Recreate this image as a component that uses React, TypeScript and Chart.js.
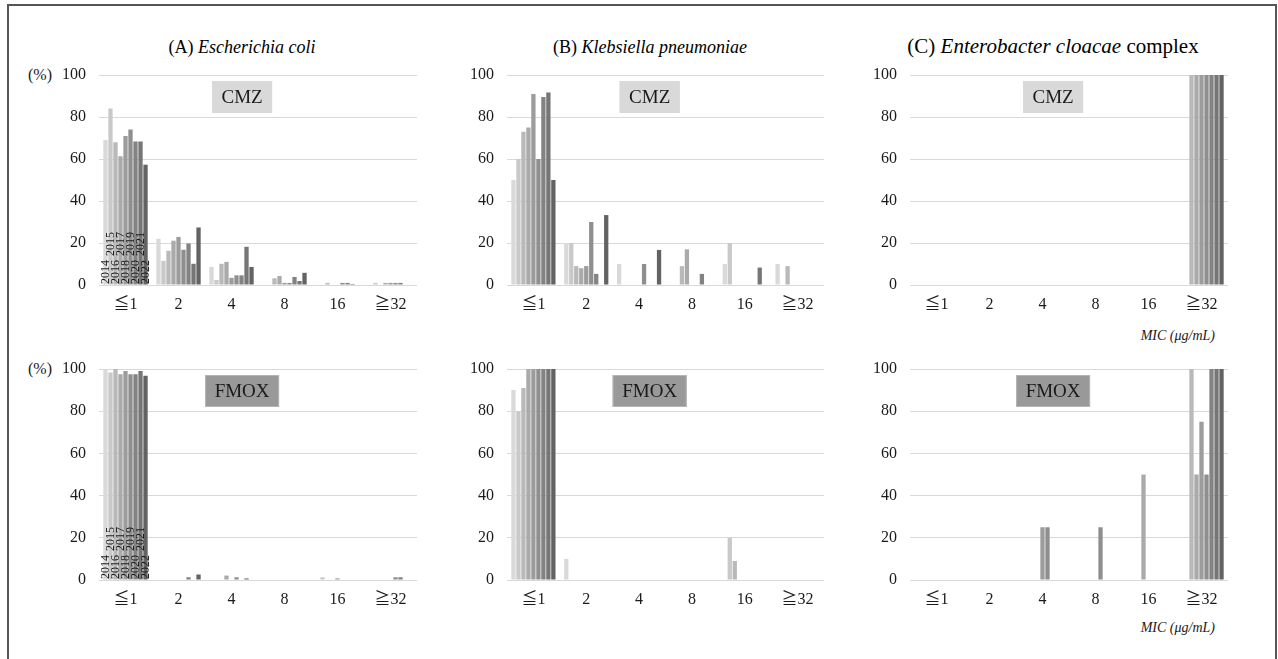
import React, { useEffect, useRef } from 'react';
import { Chart, registerables } from 'chart.js';

Chart.register(...registerables);

const FONT = "'Liberation Serif', 'Noto Sans CJK JP', serif";
Chart.defaults.font.family = FONT;

const categories = ['≦1', '2', '4', '8', '16', '≧32'];
const years = ['2014', '2015', '2016', '2017', '2018', '2019', '2020', '2021', '2022'];
const yearColors = ['#d9d9d9', '#c9c9c9', '#b9b9b9', '#aaaaaa', '#9c9c9c', '#8f8f8f', '#838383', '#767676', '#636363'];

// rows = years (2014..2022), columns = categories (≦1, 2, 4, 8, 16, ≧32), values in %
const ecoliCMZ = [
  [69, 22, 8.6, 0, 0, 0],
  [84, 11.5, 2.4, 0, 0, 1],
  [68, 16.3, 10.1, 3.2, 1, 0],
  [61.3, 21.1, 11, 4.3, 0, 1],
  [71, 22.9, 3.4, 1, 0, 1],
  [74, 16.8, 4.6, 1, 1, 1],
  [68.3, 19.8, 4.6, 3.8, 1, 1],
  [68.3, 10.1, 18.2, 1.9, 0.5, 0],
  [57.3, 27.4, 8.6, 5.8, 0, 0],
];
const ecoliFMOX = [
  [100, 0, 0, 0, 0, 0],
  [98.4, 0, 0, 0, 1.3, 0],
  [100, 0, 0, 0, 0, 0],
  [97.5, 0, 2.1, 0, 0, 0],
  [99, 0, 0, 0, 0.8, 0],
  [97.5, 0, 1.3, 0, 0, 1.3],
  [97.5, 1.3, 0, 0, 0, 1.3],
  [99, 0, 0.8, 0, 0, 0],
  [96.8, 2.6, 0, 0, 0, 0],
];
const klebCMZ = [
  [50, 20, 10, 0, 10, 10],
  [60, 20, 0, 0, 20, 0],
  [73, 9, 0, 9, 0, 9],
  [75, 8, 0, 17, 0, 0],
  [91, 9, 0, 0, 0, 0],
  [60, 30, 10, 0, 0, 0],
  [89.5, 5.3, 0, 5.3, 0, 0],
  [91.7, 0, 0, 0, 8.3, 0],
  [50, 33.3, 16.7, 0, 0, 0],
];
const klebFMOX = [
  [90, 10, 0, 0, 0, 0],
  [80, 0, 0, 0, 20, 0],
  [91, 0, 0, 0, 9, 0],
  [100, 0, 0, 0, 0, 0],
  [100, 0, 0, 0, 0, 0],
  [100, 0, 0, 0, 0, 0],
  [100, 0, 0, 0, 0, 0],
  [100, 0, 0, 0, 0, 0],
  [100, 0, 0, 0, 0, 0],
];
const enteroCMZ = [
  [null, null, null, null, null, null],
  [null, null, null, null, null, null],
  [0, 0, 0, 0, 0, 100],
  [0, 0, 0, 0, 0, 100],
  [0, 0, 0, 0, 0, 100],
  [0, 0, 0, 0, 0, 100],
  [0, 0, 0, 0, 0, 100],
  [0, 0, 0, 0, 0, 100],
  [0, 0, 0, 0, 0, 100],
];
const enteroFMOX = [
  [null, null, null, null, null, null],
  [null, null, null, null, null, null],
  [0, 0, 0, 0, 0, 100],
  [0, 0, 0, 0, 50, 50],
  [0, 0, 25, 0, 0, 75],
  [0, 0, 25, 25, 0, 50],
  [0, 0, 0, 0, 0, 100],
  [0, 0, 0, 0, 0, 100],
  [0, 0, 0, 0, 0, 100],
];

type PanelProps = {
  left: number;
  top: number;
  width: number;
  height: number;
  rows: (number | null)[][];
  tag: string;
  tagFill: string;
  tagStroke: string;
  tagW: number;
  showYears: boolean;
};

const Y_AXIS_W = 60;
const PAD_T = 26;
const PAD_R = 12;
const X_AXIS_H = 40;

function Panel(p: PanelProps) {
  const ref = useRef<HTMLCanvasElement>(null);
  useEffect(() => {
    const tagPlugin = {
      id: 'tag',
      afterDatasetsDraw(chart: any) {
        const { ctx, chartArea } = chart;
        const cx = chartArea.left + 0.45 * (chartArea.right - chartArea.left);
        const y0 = chartArea.top + 6;
        const h = 32;
        ctx.save();
        ctx.fillStyle = p.tagFill;
        ctx.fillRect(cx - p.tagW / 2, y0, p.tagW, h);
        ctx.strokeStyle = p.tagStroke;
        ctx.lineWidth = 1;
        ctx.strokeRect(cx - p.tagW / 2 + 0.5, y0 + 0.5, p.tagW - 1, h - 1);
        ctx.fillStyle = '#1a1a1a';
        ctx.font = `19px ${FONT}`;
        ctx.textAlign = 'center';
        ctx.textBaseline = 'middle';
        ctx.fillText(p.tag, cx, y0 + h / 2 + 1);
        ctx.restore();
      },
    };
    const yearPlugin = {
      id: 'years',
      afterDatasetsDraw(chart: any) {
        if (!p.showYears) return;
        const { ctx } = chart;
        const base = chart.scales.y.getPixelForValue(0);
        ctx.save();
        ctx.fillStyle = '#1a1a1a';
        ctx.font = `12px ${FONT}`;
        ctx.textAlign = 'left';
        ctx.textBaseline = 'middle';
        years.forEach((yr, i) => {
          const el = chart.getDatasetMeta(i).data[0];
          if (!el) return;
          const off = i % 2 === 0 ? 1 : 29;
          ctx.save();
          ctx.translate(el.x, base - off);
          ctx.rotate(-Math.PI / 2);
          ctx.fillText(yr, 0, 0);
          ctx.restore();
        });
        ctx.restore();
      },
    };
    const chart = new Chart(ref.current as HTMLCanvasElement, {
      type: 'bar',
      data: {
        labels: categories,
        datasets: years.map((y, i) => ({
          label: y,
          data: p.rows[i] as any,
          backgroundColor: yearColors[i],
          borderWidth: 0,
          categoryPercentage: 0.85,
          barPercentage: 0.86,
        })),
      },
      options: {
        responsive: false,
        animation: false,
        devicePixelRatio: 1,
        layout: { padding: { left: 0, right: PAD_R, top: PAD_T, bottom: 0 } },
        plugins: {
          legend: { display: false },
          tooltip: { enabled: false },
          title: { display: false },
        },
        scales: {
          x: {
            grid: { display: false, drawTicks: false },
            border: { display: false },
            ticks: {
              padding: 10,
              font: { size: 16, family: FONT },
              color: '#1a1a1a',
              maxRotation: 0,
              autoSkip: false,
            },
            afterFit: (s: any) => {
              s.height = X_AXIS_H;
            },
          },
          y: {
            min: 0,
            max: 100,
            ticks: {
              stepSize: 20,
              padding: 13,
              font: { size: 16, family: FONT },
              color: '#1a1a1a',
            },
            grid: { color: '#d9d9d9', drawTicks: false, lineWidth: 1 },
            border: { display: false },
            afterFit: (s: any) => {
              s.width = Y_AXIS_W;
            },
          },
        },
      } as any,
      plugins: [tagPlugin, yearPlugin],
    });
    return () => chart.destroy();
  }, []);
  return (
    <canvas
      ref={ref}
      width={p.width + Y_AXIS_W + PAD_R}
      height={p.height + PAD_T + X_AXIS_H}
      style={{ position: 'absolute', left: p.left - Y_AXIS_W, top: p.top - PAD_T }}
    />
  );
}

const txt: React.CSSProperties = {
  position: 'absolute',
  fontFamily: FONT,
  color: '#000',
  whiteSpace: 'nowrap',
  lineHeight: 1,
};

export default function App() {
  const cmzFill = '#d9d9d9';
  const fmoxFill = '#999999';
  const cols = [
    { x: 99, w: 318 },
    { x: 507, w: 317 },
    { x: 910, w: 318 },
  ];
  const rowsY = [
    { y: 75, h: 210 },
    { y: 369, h: 211 },
  ];
  return (
    <div
      style={{
        position: 'absolute',
        left: 0,
        top: 0,
        width: 1278,
        height: 659,
        overflow: 'hidden',
        background: '#fff',
      }}
    >
      <div
        style={{
          position: 'absolute',
          left: 7,
          top: 4,
          width: 1270,
          height: 720,
          boxSizing: 'border-box',
          borderLeft: '2px solid #555',
          borderTop: '2px solid #555',
          borderRight: '2px solid #555',
        }}
      />
      <div style={{ ...txt, fontSize: 18, left: 242, top: 47, transform: 'translate(-50%, -50%)' }}>
        (A) <i>Escherichia coli</i>
      </div>
      <div style={{ ...txt, fontSize: 18, left: 650, top: 47, transform: 'translate(-50%, -50%)' }}>
        (B) <i>Klebsiella pneumoniae</i>
      </div>
      <div style={{ ...txt, fontSize: 21, left: 1053, top: 46, transform: 'translate(-50%, -50%)' }}>
        (C) <i>Enterobacter cloacae</i> complex
      </div>
      <div style={{ ...txt, fontSize: 16, left: 40, top: 75, transform: 'translate(-50%, -50%)', color: '#1a1a1a' }}>(%)</div>
      <div style={{ ...txt, fontSize: 16, left: 40, top: 369, transform: 'translate(-50%, -50%)', color: '#1a1a1a' }}>(%)</div>
      <div style={{ ...txt, fontSize: 14, left: 1215, top: 336, transform: 'translate(-100%, -50%)', fontStyle: 'italic', color: '#1a1a1a' }}>
        MIC (μg/mL)
      </div>
      <div style={{ ...txt, fontSize: 14, left: 1215, top: 628, transform: 'translate(-100%, -50%)', fontStyle: 'italic', color: '#1a1a1a' }}>
        MIC (μg/mL)
      </div>

      <Panel left={cols[0].x} top={rowsY[0].y} width={cols[0].w} height={rowsY[0].h} rows={ecoliCMZ} tag="CMZ" tagFill={cmzFill} tagStroke={cmzFill} tagW={60} showYears={true} />
      <Panel left={cols[1].x} top={rowsY[0].y} width={cols[1].w} height={rowsY[0].h} rows={klebCMZ} tag="CMZ" tagFill={cmzFill} tagStroke={cmzFill} tagW={60} showYears={false} />
      <Panel left={cols[2].x} top={rowsY[0].y} width={cols[2].w} height={rowsY[0].h} rows={enteroCMZ} tag="CMZ" tagFill={cmzFill} tagStroke={cmzFill} tagW={60} showYears={false} />
      <Panel left={cols[0].x} top={rowsY[1].y} width={cols[0].w} height={rowsY[1].h} rows={ecoliFMOX} tag="FMOX" tagFill={fmoxFill} tagStroke="#b5b5b5" tagW={74} showYears={true} />
      <Panel left={cols[1].x} top={rowsY[1].y} width={cols[1].w} height={rowsY[1].h} rows={klebFMOX} tag="FMOX" tagFill={fmoxFill} tagStroke="#b5b5b5" tagW={74} showYears={false} />
      <Panel left={cols[2].x} top={rowsY[1].y} width={cols[2].w} height={rowsY[1].h} rows={enteroFMOX} tag="FMOX" tagFill={fmoxFill} tagStroke="#b5b5b5" tagW={74} showYears={false} />
    </div>
  );
}
